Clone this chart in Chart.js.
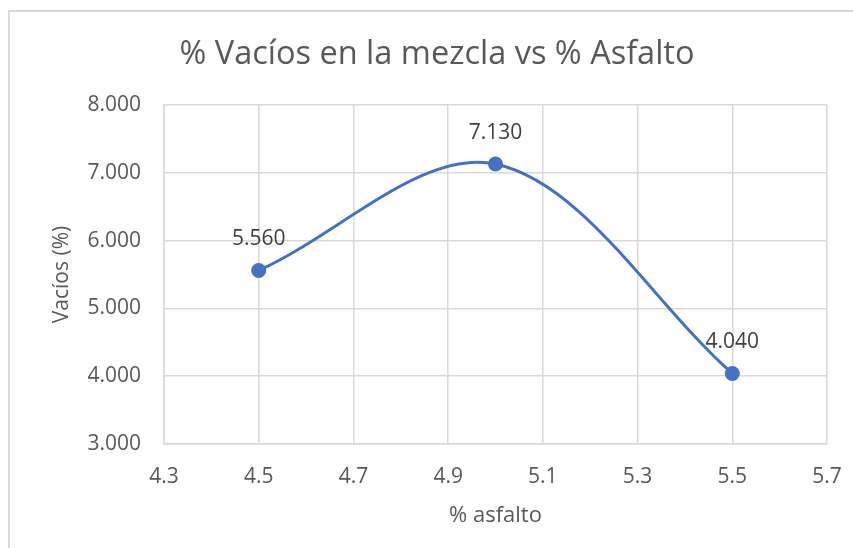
<!DOCTYPE html>
<html>
<head>
<meta charset="utf-8">
<script src="https://cdn.jsdelivr.net/npm/chart.js@4"></script>
<style>
  html, body { margin: 0; padding: 0; background: #fff; overflow: hidden; }
  #wrap { position: relative; width: 853px; height: 548px; overflow: hidden; }
  #frame { position: absolute; left: 8px; top: 10px; width: 900px; height: 600px;
           border-top: 2px solid #d9d9d9; border-left: 2px solid #d9d9d9; }
  #c { position: absolute; left: 0; top: 0; }
</style>
</head>
<body>
<div id="wrap">
  <div id="frame"></div>
  <canvas id="c" width="853" height="548"></canvas>
</div>
<script>
// Asphalt content (%) and air voids in the mix (%)
const asfalto = [4.5, 5.0, 5.5];
const vacios = [5.56, 7.13, 4.04];

// Axis ticks
const xTicks = [4.3, 4.5, 4.7, 4.9, 5.1, 5.3, 5.5, 5.7];
const yTicks = [3, 4, 5, 6, 7, 8];

const chartTitle = '% Vacíos en la mezcla vs % Asfalto';
const xTitle = '% asfalto';
const yTitle = 'Vacíos (%)';

const FONT = '"Open Sans", "Noto Sans", sans-serif';
const TEXT = '#595959';
const GRID = '#d9d9d9';
const BLUE = '#4472C4';

// Draws the chart heading centred over the frame
const headingPlugin = {
  id: 'heading',
  afterDraw(chart) {
    const ctx = chart.ctx;
    ctx.save();
    ctx.font = '32.5px ' + FONT;
    ctx.fillStyle = TEXT;
    ctx.textAlign = 'center';
    ctx.textBaseline = 'middle';
    ctx.fillText(chartTitle, 437, 55);
    ctx.restore();
  }
};

// Writes each point's value above its marker
const valueLabels = {
  id: 'valueLabels',
  afterDatasetsDraw(chart) {
    const ctx = chart.ctx;
    ctx.save();
    ctx.font = '21px ' + FONT;
    ctx.fillStyle = '#404040';
    ctx.textAlign = 'center';
    ctx.textBaseline = 'middle';
    chart.data.datasets.forEach((ds, i) => {
      chart.getDatasetMeta(i).data.forEach((pt, j) => {
        ctx.fillText(ds.data[j].y.toFixed(3), pt.x, pt.y - 31);
      });
    });
    ctx.restore();
  }
};

new Chart(document.getElementById('c'), {
  type: 'scatter',
  data: {
    datasets: [{
      data: asfalto.map((x, i) => ({ x: x, y: vacios[i] })),
      showLine: true,
      tension: 0.34,
      borderColor: BLUE,
      borderWidth: 3,
      pointRadius: 7.5,
      pointHoverRadius: 7.5,
      pointBackgroundColor: BLUE,
      pointBorderColor: BLUE,
      pointBorderWidth: 0
    }]
  },
  options: {
    responsive: false,
    animation: false,
    events: [],
    layout: { autoPadding: false, padding: { left: 8, top: 105, right: 26, bottom: 0 } },
    plugins: {
      legend: { display: false },
      tooltip: { enabled: false },
      title: { display: false }
    },
    scales: {
      x: {
        type: 'linear',
        min: 4.3,
        max: 5.7,
        afterBuildTicks: s => { s.ticks = xTicks.map(v => ({ value: v })); },
        afterFit: s => { s.height = 104; s.paddingLeft = 0; s.paddingRight = 0; },
        ticks: {
          padding: 20,
          color: TEXT,
          font: { family: FONT, size: 21 },
          callback: v => Number(v).toFixed(1)
        },
        grid: { color: GRID, lineWidth: 1.5, drawTicks: false },
        border: { color: GRID, width: 1.5 },
        title: {
          display: true,
          text: xTitle,
          color: TEXT,
          font: { family: FONT, size: 22 },
          padding: { top: 0, bottom: 19 }
        }
      },
      y: {
        type: 'linear',
        min: 3,
        max: 8,
        afterBuildTicks: s => { s.ticks = yTicks.map(v => ({ value: v })); },
        afterFit: s => { s.width = 156; },
        ticks: {
          padding: 23,
          color: TEXT,
          font: { family: FONT, size: 21 },
          callback: v => Number(v).toFixed(3)
        },
        grid: { color: GRID, lineWidth: 1.5, drawTicks: false },
        border: { color: GRID, width: 1.5 },
        title: {
          display: true,
          text: yTitle,
          color: TEXT,
          font: { family: FONT, size: 21 },
          padding: { top: 41, bottom: 0 }
        }
      }
    }
  },
  plugins: [headingPlugin, valueLabels]
});
</script>
</body>
</html>
